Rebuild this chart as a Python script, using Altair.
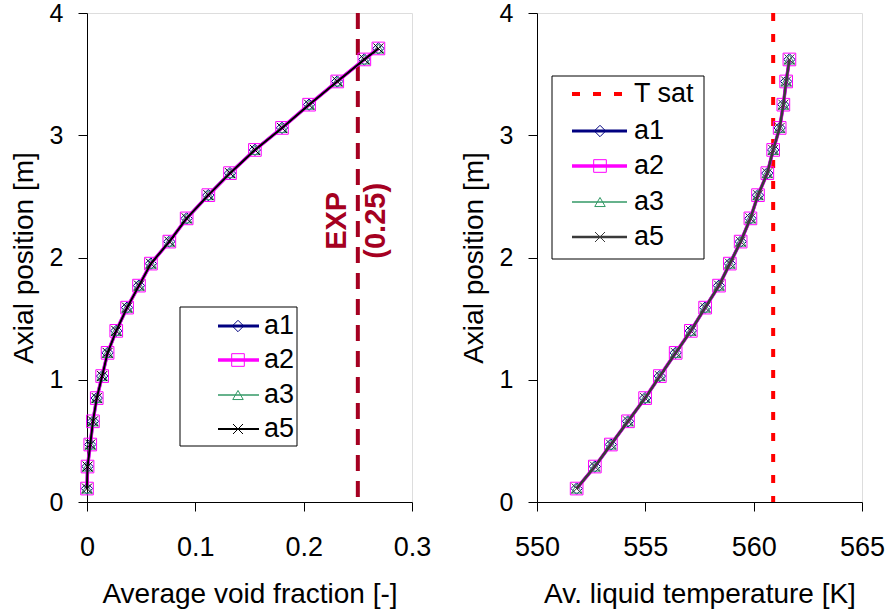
import altair as alt
import pandas as pd

FONT = "Liberation Sans"

# ---------------- data ----------------
series = ["a1", "a2", "a3", "a5"]

axial_left = [0.11, 0.29, 0.47, 0.66, 0.85, 1.03, 1.22, 1.40, 1.59, 1.77, 1.95,
              2.13, 2.32, 2.51, 2.69, 2.88, 3.06, 3.25, 3.44, 3.62, 3.71]
void_frac = [0.000, 0.0005, 0.003, 0.0055, 0.009, 0.014, 0.019, 0.027, 0.037, 0.048, 0.059,
             0.076, 0.092, 0.112, 0.132, 0.155, 0.180, 0.205, 0.231, 0.256, 0.269]

axial_right = [0.11, 0.29, 0.47, 0.66, 0.85, 1.03, 1.22, 1.40, 1.59, 1.77,
               1.95, 2.13, 2.32, 2.51, 2.69, 2.88, 3.06, 3.25, 3.44, 3.62]
liq_temp = [551.83, 552.67, 553.41, 554.20, 554.99, 555.67, 556.40, 557.10, 557.76, 558.40,
            558.90, 559.40, 559.85, 560.20, 560.63, 560.90, 561.20, 561.37, 561.50, 561.65]

exp_void = 0.25
exp_labels = ["EXP", "(0.25)"]
exp_label_x = [0.231, 0.267]
exp_label_y = 2.3
t_sat = 560.9

x_ticks_left = [0, 0.1, 0.2, 0.3]
x_ticks_right = [550, 555, 560, 565]
y_ticks = [0, 1, 2, 3, 4]

# ---------------- styles ----------------
X_SHAPE = "M-1,-1L1,1M-1,1L1,-1"
styles_left = {
    "a1": dict(color="#000080", width=3.0, shape="diamond", size=130),
    "a2": dict(color="#FF00FF", width=3.5, shape="square", size=160),
    "a3": dict(color="#339966", width=1.5, shape="triangle-up", size=110),
    "a5": dict(color="#000000", width=2.0, shape=X_SHAPE, size=100),
}
styles_right = dict(styles_left)
styles_right["a5"] = dict(color="#3a3a3a", width=2.5, shape=X_SHAPE, size=100)

W, H = 325, 489
XLABEL_FS = 27
YLABEL_FS = 25
TITLE_FS = 28
LEG_FS = 27


def axis(values, title, fmt, label_fs, label_pad, title_pad):
    return alt.Axis(values=values, title=title, format=fmt, grid=False,
                    tickSize=9, tickColor="#000000", domainColor="#000000",
                    labelFont=FONT, labelFontSize=label_fs, labelColor="#000000",
                    titleFont=FONT, titleFontSize=TITLE_FS, titleFontWeight="normal",
                    titleColor="#000000", labelPadding=label_pad, titlePadding=title_pad,
                    labelFlush=False, labelOverlap=False)


def xy_enc(xvals, xdom, xtitle, xfmt):
    X = alt.X("x:Q", scale=alt.Scale(domain=xdom, nice=False, zero=False),
              axis=axis(xvals, xtitle, xfmt, XLABEL_FS, 23, 20))
    Y = alt.Y("y:Q", scale=alt.Scale(domain=[0, 4], nice=False),
              axis=axis(y_ticks, "Axial position [m]", "d", YLABEL_FS, 15, 11))
    return X, Y


def legend_layers(entries, box, line_x, mark_x, text_x, ys):
    one = alt.Data(values=[{}])
    layers = [alt.Chart(one).mark_rect(fill="white", stroke="#000000", strokeWidth=1).encode(
        x=alt.value(box[0]), x2=alt.value(box[1]), y=alt.value(box[2]), y2=alt.value(box[3]))]
    for (label, st), yv in zip(entries, ys):
        if st is None:
            layers.append(alt.Chart(one).mark_rule(color="#FF0000", strokeWidth=4,
                                                   strokeDash=[8, 13]).encode(
                x=alt.value(line_x[0]), x2=alt.value(line_x[1]), y=alt.value(yv)))
        else:
            layers.append(alt.Chart(one).mark_rule(color=st["color"], strokeWidth=st["width"]).encode(
                x=alt.value(line_x[0]), x2=alt.value(line_x[1]), y=alt.value(yv)))
            layers.append(alt.Chart(one).mark_point(shape=st["shape"], size=st["size"], filled=False,
                                                    color=st["color"], strokeWidth=1, opacity=1).encode(
                x=alt.value(mark_x), y=alt.value(yv)))
        layers.append(alt.Chart(one).mark_text(align="left", baseline="middle", font=FONT,
                                               fontSize=LEG_FS, color="#000000").encode(
            x=alt.value(text_x), y=alt.value(yv), text=alt.value(label)))
    return layers


def series_layers(xs, ys, styles, X, Y):
    df = pd.DataFrame({"x": xs, "y": ys})
    layers = []
    for s in series:
        st = styles[s]
        base = alt.Chart(df).encode(x=X, y=Y)
        layers.append(base.mark_line(color=st["color"], strokeWidth=st["width"]))
        layers.append(base.mark_point(shape=st["shape"], size=st["size"], filled=False,
                                      color=st["color"], strokeWidth=1, opacity=1))
    return layers

# ---------------- left panel ----------------
XL, YL = xy_enc(x_ticks_left, [0, 0.3], "Average void fraction [-]", ".1~f")
exp_rule = alt.Chart(pd.DataFrame({"x": [exp_void]})).mark_rule(
    color="#A50021", strokeWidth=4, strokeDash=[16, 10]).encode(x=XL)
exp_text = alt.Chart(pd.DataFrame({"x": exp_label_x, "y": [exp_label_y] * 2, "t": exp_labels})).mark_text(
    angle=270, align="center", baseline="middle", font=FONT, fontSize=29, fontWeight="bold",
    color="#A50021").encode(x=XL, y=YL, text="t:N")

left = alt.layer(
    exp_rule,
    *series_layers(void_frac, axial_left, styles_left, XL, YL),
    exp_text,
    *legend_layers([(s, styles_left[s]) for s in series],
                   box=[93, 210, 294, 433], line_x=[131, 172], mark_x=151, text_x=177,
                   ys=[313, 347, 382, 416]),
).properties(width=W, height=H)

# ---------------- right panel ----------------
XR, YR = xy_enc(x_ticks_right, [550, 565], "Av. liquid temperature [K]", "d")
tsat_rule = alt.Chart(pd.DataFrame({"x": [t_sat]})).mark_rule(
    color="#FF0000", strokeWidth=4, strokeDash=[8, 13]).encode(x=XR)

right = alt.layer(
    tsat_rule,
    *series_layers(liq_temp, axial_right, styles_right, XR, YR),
    *legend_layers([("T sat", None)] + [(s, styles_right[s]) for s in series],
                   box=[15, 167, 63, 246], line_x=[35, 90], mark_x=63, text_x=97,
                   ys=[81, 118, 153, 189, 224]),
).properties(width=W, height=H)

chart = alt.hconcat(left, right, spacing=27).properties(
    padding={"left": 9, "top": 0, "right": 0, "bottom": 0}
).configure_view(stroke="#808080", strokeWidth=1).configure(background="white")

chart.save("out.html", embed_options={"renderer": "svg", "actions": False})
